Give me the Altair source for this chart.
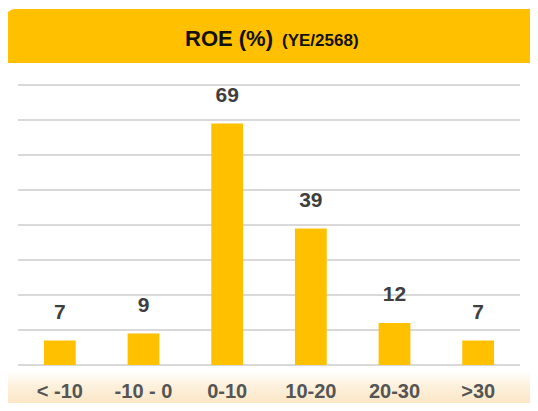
import altair as alt
import pandas as pd

categories = ["< -10", "-10 - 0", "0-10", "10-20", "20-30", ">30"]
values = [7, 9, 69, 39, 12, 7]
title_main = "ROE (%)"
title_sub = "(YE/2568)"

df = pd.DataFrame({"cat": categories, "val": values})

YELLOW = "#FFC000"
W, H = 502, 280

x_enc = alt.X("cat:N", sort=categories,
              scale=alt.Scale(paddingInner=0.62, paddingOuter=0.31),
              axis=None)
y_scale = alt.Scale(domain=[0, 80], nice=False)

base = alt.Chart(df)

grid = alt.Chart(pd.DataFrame({"g": list(range(0, 81, 10))})).mark_rule(
    color="#D9D9D9", strokeWidth=2
).encode(
    y=alt.Y("g:Q", scale=y_scale, axis=None),
    x=alt.value(0), x2=alt.value(W)
)

band = alt.Chart(pd.DataFrame({"a": [0]})).mark_rect(
    color=alt.Gradient(
        gradient="linear",
        stops=[alt.GradientStop(color="#FFFFFF", offset=0),
               alt.GradientStop(color="#FDF1DE", offset=0.45),
               alt.GradientStop(color="#FBE6C6", offset=1)],
        x1=0, x2=0, y1=0, y2=1),
).encode(x=alt.value(-10), x2=alt.value(512), y=alt.value(286), y2=alt.value(318))

bars = base.mark_bar(color=YELLOW).encode(
    x=x_enc,
    y=alt.Y("val:Q", scale=y_scale, axis=None),
)

labels = base.mark_text(
    dy=-22, baseline="alphabetic", font="Liberation Sans", fontWeight="bold",
    fontSize=21, color="#3F3F3F"
).encode(x=x_enc, y=alt.Y("val:Q", scale=y_scale), text="val:Q")

cat_labels = base.mark_text(
    baseline="alphabetic", font="Liberation Sans", fontWeight="bold",
    fontSize=20, color="#555555"
).encode(x=x_enc, y=alt.value(313), text="cat:N")

header = alt.Chart(pd.DataFrame({"a": [0]})).mark_rect(
    color=YELLOW, cornerRadiusTopLeft=9
).encode(x=alt.value(-12), x2=alt.value(512), y=alt.value(-76), y2=alt.value(-22))

t1 = alt.Chart(pd.DataFrame({"t": [title_main]})).mark_text(
    align="left", baseline="alphabetic",
    font="Liberation Sans", fontWeight="bold", fontSize=22, color="#111111"
).encode(x=alt.value(167), y=alt.value(-39), text="t:N")

t2 = alt.Chart(pd.DataFrame({"t": [title_sub]})).mark_text(
    align="left", baseline="alphabetic",
    font="Liberation Sans", fontWeight="bold", fontSize=17, color="#111111"
).encode(x=alt.value(264), y=alt.value(-39), text="t:N")

chart = alt.layer(band, grid, bars, labels, cat_labels, header, t1, t2).properties(
    width=W, height=H,
    autosize=alt.AutoSizeParams(type="none"),
    padding={"left": 10, "top": 77, "right": 10, "bottom": 38},
).configure_view(stroke=None, clip=False)

chart.save("out.html", embed_options={"renderer": "svg", "actions": False})
